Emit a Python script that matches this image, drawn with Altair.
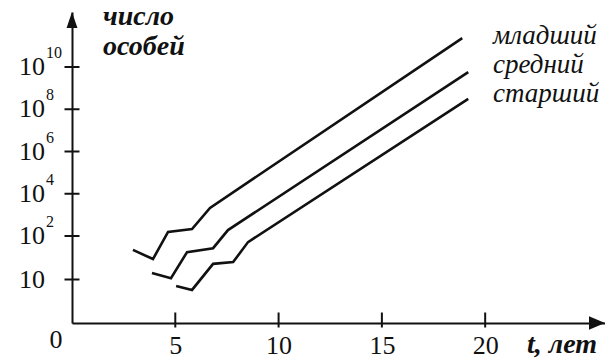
import altair as alt
import pandas as pd

# ---------------- data ----------------
series_names = ["младший", "средний", "старший"]

young_t = [2.95, 3.92, 4.65, 5.81, 6.68, 18.89]
young_log = [1.68, 1.47, 2.19, 2.33, 3.33, 11.37]

middle_t = [3.87, 4.79, 5.57, 6.83, 7.55, 19.18]
middle_log = [1.15, 1.03, 1.63, 1.72, 2.28, 9.76]

old_t = [5.04, 5.81, 6.83, 7.80, 8.52, 19.18]
old_log = [0.85, 0.76, 1.36, 1.40, 1.86, 8.49]

x_ticks = [5, 10, 15, 20]
y_tick_logs = [1, 2, 4, 6, 8, 10]
y_tick_base = ["10", "10", "10", "10", "10", "10"]
y_tick_exps = ["", "2", "4", "6", "8", "10"]
label_logs = [11.09, 9.72, 8.34]

# ---------------- layout / scales ----------------
W, H = 533, 311
PX_LOW = 43.5      # px per decade below 10^2
PX_HIGH = 21.125   # px per decade above 10^2
X_MAX = 25.8
Y_MAX = 2 + (H - 2 * PX_LOW) / PX_HIGH

x_scale = alt.Scale(domain=[0, X_MAX], range=[0, W], zero=False, nice=False)
y_scale = alt.Scale(domain=[0, 2, Y_MAX], range=[H, H - 2 * PX_LOW, 0],
                    zero=False, nice=False)

SERIF = "Liberation Serif"
INK = "#111111"

rows = []
for name, ts, ls in [(series_names[0], young_t, young_log),
                     (series_names[1], middle_t, middle_log),
                     (series_names[2], old_t, old_log)]:
    for i, (t, l) in enumerate(zip(ts, ls)):
        rows.append({"series": name, "t": t, "logn": l, "order": i})
lines_df = pd.DataFrame(rows)

ytick_df = pd.DataFrame({"v": y_tick_logs, "base": y_tick_base, "exp": y_tick_exps})
xtick_df = pd.DataFrame({"v": x_ticks})
lab_df = pd.DataFrame({"name": series_names, "v": label_logs})

x_axis = alt.Axis(values=x_ticks, ticks=False, tickSize=0, grid=False, title=None,
                  domain=True, domainColor=INK, domainWidth=2,
                  labelFont=SERIF, labelFontSize=26, labelColor=INK,
                  labelBaseline="alphabetic", labelPadding=30, labelOverlap=False,
                  labelFlush=False)
y_axis = alt.Axis(labels=False, ticks=False, grid=False, title=None,
                  domain=True, domainColor=INK, domainWidth=2)

lines = alt.Chart(lines_df).mark_line(color=INK, strokeWidth=2.6).encode(
    x=alt.X("t:Q", scale=x_scale, axis=x_axis),
    y=alt.Y("logn:Q", scale=y_scale, axis=y_axis),
    detail="series:N",
    order="order:Q",
)

yticks = alt.Chart(ytick_df).mark_tick(orient="horizontal", size=15, thickness=2,
                                       color=INK, opacity=1).encode(
    y=alt.Y("v:Q"), x=alt.datum(0)
)
xticks = alt.Chart(xtick_df).mark_tick(orient="vertical", size=15, thickness=2,
                                       color=INK, opacity=1, yOffset=-3).encode(
    x=alt.X("v:Q"), y=alt.datum(0)
)

ybase = alt.Chart(ytick_df).mark_text(font=SERIF, fontSize=26, color=INK,
                                      align="right", baseline="middle", dx=-27).encode(
    y=alt.Y("v:Q"), x=alt.datum(0), text="base:N"
)
yexp = alt.Chart(ytick_df).mark_text(font=SERIF, fontSize=16, color=INK,
                                     align="left", baseline="middle", dx=-26, dy=-14).encode(
    y=alt.Y("v:Q"), x=alt.datum(0), text="exp:N"
)
zero_lab = alt.Chart(pd.DataFrame({"t": ["0"]})).mark_text(
    font=SERIF, fontSize=26, color=INK, align="center", baseline="alphabetic",
    dx=-16, dy=25).encode(x=alt.datum(0), y=alt.datum(0), text="t:N")

up_arrow = alt.Chart(pd.DataFrame({"a": [1]})).mark_point(
    shape="M0,-1L0.68,1L-0.68,1Z", filled=True, size=256, color=INK, opacity=1,
    strokeWidth=0, yOffset=8).encode(x=alt.datum(0), y=alt.datum(Y_MAX))
right_arrow = alt.Chart(pd.DataFrame({"a": [1]})).mark_point(
    shape="M1,0L-1,-0.85L-1,0.85Z", filled=True, size=256, color=INK, opacity=1,
    strokeWidth=0, xOffset=-8).encode(x=alt.datum(X_MAX), y=alt.datum(0))

series_lab = alt.Chart(lab_df).mark_text(font=SERIF, fontSize=27, fontStyle="italic",
                                         color=INK, align="left",
                                         baseline="alphabetic").encode(
    x=alt.value(421), y=alt.Y("v:Q"), text="name:N"
)

ytitle = alt.Chart(pd.DataFrame({"s": ["число", "особей"], "py": [13, 43]})).mark_text(
    font=SERIF, fontSize=28, fontStyle="italic", fontWeight="bold", color=INK,
    align="left", baseline="alphabetic").encode(
    x=alt.value(31), y=alt.Y("py:Q", scale=None), text="s:N")

xtitle = alt.Chart(pd.DataFrame({"s": ["t, лет"]})).mark_text(
    font=SERIF, fontSize=28, fontStyle="italic", fontWeight="bold", color=INK,
    align="left", baseline="alphabetic").encode(
    x=alt.value(455), y=alt.value(341), text="s:N")

chart = alt.layer(
    lines, yticks, xticks, ybase, yexp, zero_lab, up_arrow, right_arrow,
    series_lab, ytitle, xtitle
).properties(
    width=W, height=H,
    padding={"left": 64, "top": 4, "right": 0, "bottom": 38},
    autosize="none",
    background="white",
).configure_view(stroke=None)

chart.save("out.html", embed_options={"renderer": "svg", "actions": False})
